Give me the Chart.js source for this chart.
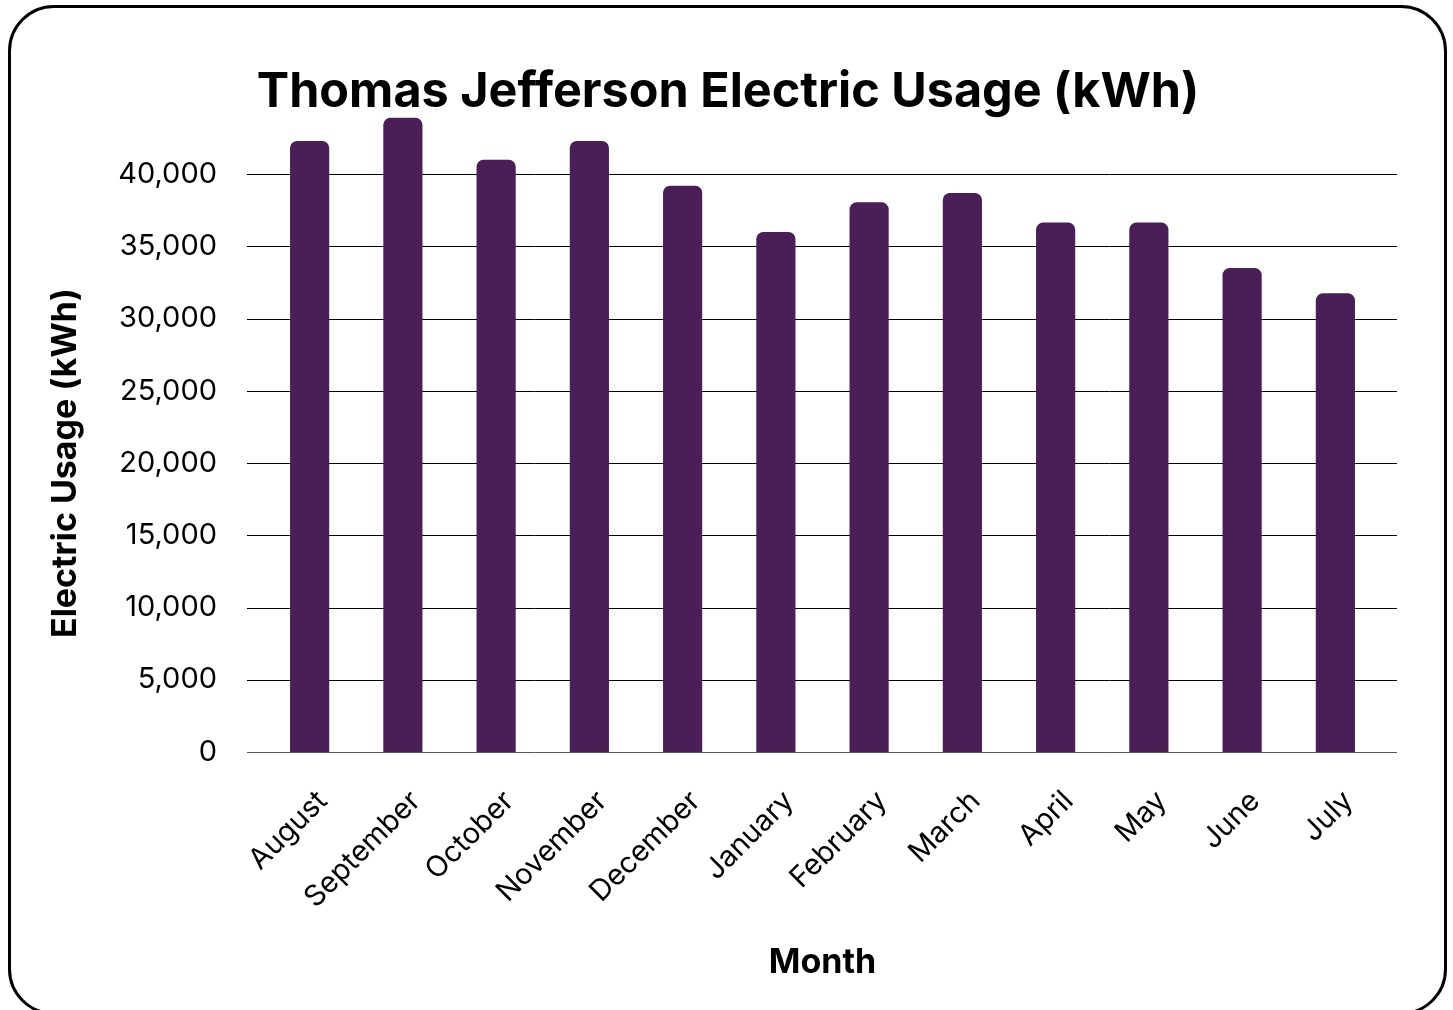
<!DOCTYPE html>
<html>
<head>
<meta charset="utf-8">
<script src="https://cdn.jsdelivr.net/npm/chart.js@4.4.0/dist/chart.umd.min.js"></script>
<style>
  html, body { margin: 0; padding: 0; background: #fff; }
  #wrap { position: relative; width: 1453px; height: 1010px; overflow: hidden; }
  #frame {
    position: absolute; left: 8px; top: 5px; width: 1439px; height: 1010px;
    border: 3px solid #000; border-radius: 46px; box-sizing: border-box;
  }
  canvas { position: absolute; left: 0; top: 0; }
</style>
</head>
<body>
<div id="wrap">
  <div id="frame"></div>
  <canvas id="usageChart" width="1453" height="1010"></canvas>
</div>
<script>
// Données
const months = ['August', 'September', 'October', 'November', 'December', 'January',
                'February', 'March', 'April', 'May', 'June', 'July'];
const usage = [42300, 43900, 41000, 42300, 39200, 36000, 38050, 38700, 36650, 36650, 33500, 31750];
const yTicks = [0, 5000, 10000, 15000, 20000, 25000, 30000, 35000, 40000];

const FONT = "'Inter', 'Open Sans', sans-serif";
const BAR_COLOR = '#4a1f57';

// Grid lines that run a bit past the plot area on both sides
const extendedGrid = {
  id: 'extendedGrid',
  beforeDatasetsDraw(chart) {
    const { ctx, chartArea, scales } = chart;
    ctx.save();
    ctx.lineWidth = 1;
    yTicks.forEach(v => {
      const y = Math.round(scales.y.getPixelForValue(v)) + 0.5;
      ctx.strokeStyle = v === 0 ? '#555' : '#000';
      ctx.beginPath();
      ctx.moveTo(chartArea.left - 16, y);
      ctx.lineTo(chartArea.right + 15, y);
      ctx.stroke();
    });
    ctx.restore();
  }
};

const ctx = document.getElementById('usageChart').getContext('2d');
const usageChart = new Chart(ctx, {
  type: 'bar',
  data: {
    labels: months,
    datasets: [{
      label: 'Electric Usage (kWh)',
      data: usage,
      yAxisID: 'y',
      backgroundColor: BAR_COLOR,
      borderRadius: { topLeft: 7, topRight: 7 },
      borderSkipped: 'start',
      barPercentage: 0.42,
      categoryPercentage: 1,
      clip: false // bars go above the 40,000 line, like the original
    }]
  },
  options: {
    responsive: false,
    animation: false,
    layout: { padding: { left: 41, right: 38, top: 0, bottom: 23 } },
    scales: {
      x: {
        grid: { display: false, drawTicks: false },
        border: { display: false },
        ticks: {
          color: '#000',
          font: { family: FONT, size: 29 },
          minRotation: 45,
          maxRotation: 45,
          padding: 32,
          labelOffset: 13
        },
        title: {
          display: true,
          text: 'Month',
          color: '#000',
          font: { family: FONT, size: 34, weight: 'bold' },
          padding: { top: 4, bottom: 4 }
        },
        afterFit(scale) { scale.height = 235; }
      },
      y: {
        min: 0,
        max: 40000,
        grid: { display: false, drawTicks: false },
        border: { display: false },
        afterBuildTicks(scale) {
          scale.ticks = yTicks.map(v => ({ value: v }));
        },
        ticks: {
          color: '#000',
          font: { family: FONT, size: 29 },
          padding: 46,
          callback: v => v.toLocaleString('en-US')
        },
        title: {
          display: true,
          text: 'Electric Usage (kWh)',
          color: '#000',
          font: { family: FONT, size: 34, weight: 'bold' },
          padding: { top: 4, bottom: 4 }
        },
        afterFit(scale) { scale.width = 222; }
      },
      // empty right-hand axis, only keeps the plot where the original has it
      yRight: {
        position: 'right',
        grid: { display: false, drawTicks: false },
        border: { display: false },
        ticks: { display: false },
        afterFit(scale) { scale.width = 33; }
      }
    },
    plugins: {
      legend: { display: false },
      tooltip: { enabled: false },
      title: {
        display: true,
        text: 'Thomas Jefferson Electric Usage (kWh)',
        color: '#000',
        font: { family: FONT, size: 48.5, weight: 'bold' },
        padding: { top: 63, bottom: 53 }
      }
    }
  },
  plugins: [extendedGrid]
});
</script>
</body>
</html>
